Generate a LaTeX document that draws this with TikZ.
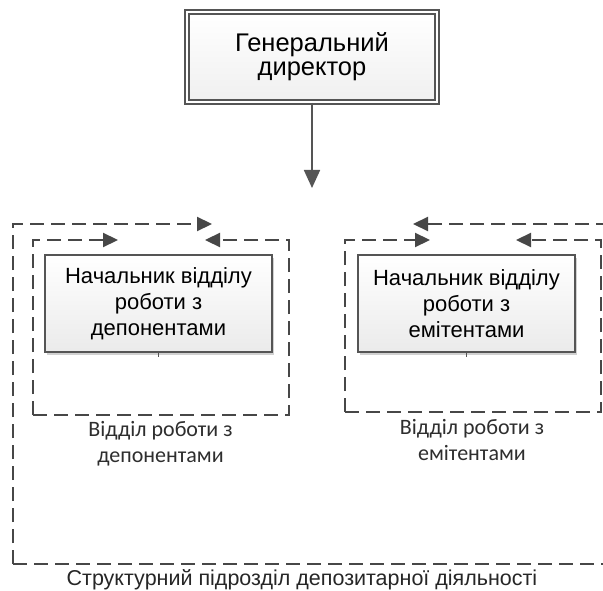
\documentclass[tikz,border=0pt]{standalone}
\usepackage{fontspec}
\setmainfont{Liberation Sans}
\newfontfamily\lblfont{Carlito}
\usetikzlibrary{arrows.meta,shadows}
\definecolor{dashgray}{HTML}{474747}
\definecolor{boxgray}{HTML}{555555}
\begin{document}
\begin{tikzpicture}[x=1pt,y=-1pt,
  frame/.style={draw=dashgray, line width=2.2pt, dash pattern=on 14pt off 7pt},
  farrow/.style={frame, -{Triangle[length=15pt,width=14pt]}},
  shadowed/.style={drop shadow={shadow xshift=2pt, shadow yshift=-2.5pt, fill=black, opacity=0.18}},
  headbox/.style={draw=boxgray, line width=1.7pt, double=white, double distance=2pt,
    top color=white, bottom color=gray!12, shadowed,
    minimum width=250pt, minimum height=90pt, inner sep=0pt, align=center,
    font=\fontsize{25.5}{24}\selectfont},
  chiefbox/.style={draw=boxgray, line width=1.5pt, top color=white, bottom color=gray!16, shadowed,
    minimum height=97pt, inner sep=0pt, align=center,
    font=\fontsize{22}{26}\selectfont},
  lbl/.style={inner sep=0pt, align=center, text=black!82, font=\lblfont\fontsize{22}{26}\selectfont},
  bottomlbl/.style={inner sep=0pt, anchor=base, text=black!85, font=\fontsize{21.5}{26}\selectfont},
  conn/.style={draw=boxgray, line width=1.8pt, -{Triangle[length=18pt,width=16pt]}},
  tick/.style={draw=boxgray, line width=1pt}]
\useasboundingbox (0,0) rectangle (603,591);
\clip (0,0) rectangle (603,591);
\fill[white] (0,0) rectangle (603,591);

% outer frame
\draw[farrow] (13,564) -- (13,224) -- (212,224);
\draw[farrow] (13,564) -- (614,564) -- (614,224) -- (413,224);
% left inner frame
\draw[farrow] (33,415) -- (33,240) -- (118,240);
\draw[farrow] (33,415) -- (289,415) -- (289,240) -- (205,240);
% right inner frame
\draw[farrow] (345,412) -- (345,240) -- (430,240);
\draw[farrow] (345,412) -- (601,412) -- (601,240) -- (516,240);

% boxes
\node[headbox] (gd) at (312,57) {Генеральний\\директор};
\coordinate (gdtip) at (312,188);
\draw[conn] (gd.south) -- (gdtip);

\node[chiefbox, minimum width=227pt] (n1) at (158.5,303.5) {Начальник відділу\\роботи з\\депонентами};
\node[chiefbox, minimum width=217pt] (n2) at (466.5,303.5) {Начальник відділу\\роботи з\\емітентами};
\coordinate (t1) at (158.5,357);
\coordinate (t2) at (466.5,357);
\draw[tick] (n1.south) -- (t1);
\draw[tick] (n2.south) -- (t2);

% labels
\node[lbl] (l1) at (160.5,443.5) {Відділ роботи з\\депонентами};
\node[lbl] (l2) at (472,440.5) {Відділ роботи з\\емітентами};
\node[bottomlbl] (l3) at (302,585) {Структурний підрозділ депозитарної діяльності};
\end{tikzpicture}
\end{document}
